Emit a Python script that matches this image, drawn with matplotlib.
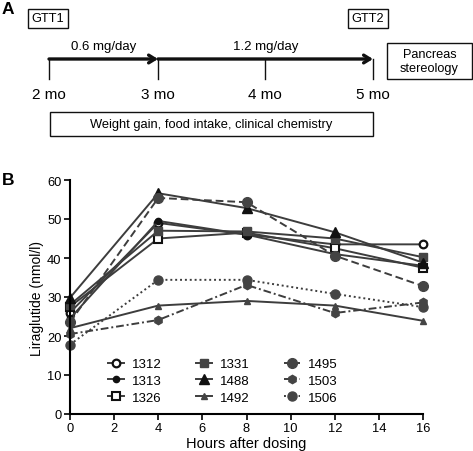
import matplotlib
matplotlib.use("Agg")
import matplotlib.pyplot as plt
from matplotlib.patches import Rectangle

plt.rcParams['font.family'] = ['Liberation Sans', 'DejaVu Sans']

# ---------------- data ----------------
hours = [0, 4, 8, 12, 16]
animals = ['1312', '1313', '1326', '1331', '1488', '1492', '1495', '1503', '1506']
v1312 = [26.0, 49.0, 46.0, 43.5, 43.5]
v1313 = [24.5, 49.5, 46.0, 41.0, 38.0]
v1326 = [27.5, 45.0, 46.5, 42.5, 37.5]
v1331 = [28.0, 47.0, 46.8, 45.0, 40.2]
v1488 = [29.8, 56.6, 52.8, 46.6, 38.8]
v1492 = [22.0, 27.8, 29.0, 27.8, 23.9]
v1495 = [23.5, 55.4, 54.3, 40.6, 32.8]
v1503 = [20.5, 24.1, 33.1, 25.9, 28.6]
v1506 = [17.8, 34.4, 34.4, 30.8, 27.4]
series = [v1312, v1313, v1326, v1331, v1488, v1492, v1495, v1503, v1506]

months = ['2 mo', '3 mo', '4 mo', '5 mo']
doses = ['0.6 mg/day', '1.2 mg/day']

xticks = [0, 2, 4, 6, 8, 10, 12, 14, 16]
yticks = [0, 10, 20, 30, 40, 50, 60]

# ---------------- figure ----------------
W, H = 473, 452
fig = plt.figure(figsize=(W / 100, H / 100), dpi=100)

# Panel A, drawn in pixel coordinates
axA = fig.add_axes([0, 0, 1, 1])
axA.set_xlim(0, W)
axA.set_ylim(H, 0)
axA.axis('off')

lc = '#111111'
axA.text(8, 10, 'A', fontsize=12.5, fontweight='bold', ha='center', va='center')
axA.text(8, 181, 'B', fontsize=12.5, fontweight='bold', ha='center', va='center')


def boxed(x0, y0, x1, y1, txt, fs):
    axA.add_patch(Rectangle((x0, y0), x1 - x0, y1 - y0, fill=False, ec=lc, lw=1.0))
    axA.text((x0 + x1) / 2, (y0 + y1) / 2, txt, fontsize=fs, ha='center', va='center',
             linespacing=1.15)


boxed(28, 10, 68, 29, 'GTT1', 9.2)
boxed(348, 10, 388, 29, 'GTT2', 9.2)
boxed(387, 44, 472, 80, 'Pancreas\nstereology', 9.2)
boxed(50, 113, 373, 137, 'Weight gain, food intake, clinical chemistry', 9.3)

mx = [49, 158, 265, 373]
ax_y = 60
axA.annotate('', xy=(mx[1], ax_y), xytext=(mx[0], ax_y),
             arrowprops=dict(arrowstyle='->,head_length=0.45,head_width=0.28', lw=2.4, color=lc,
                             shrinkA=0, shrinkB=0))
axA.annotate('', xy=(mx[3], ax_y), xytext=(mx[1], ax_y),
             arrowprops=dict(arrowstyle='->,head_length=0.45,head_width=0.28', lw=2.4, color=lc,
                             shrinkA=0, shrinkB=0))
for x, lab in zip(mx, months):
    axA.plot([x, x], [ax_y, 80], color=lc, lw=1.0)
    axA.text(x, 95, lab, fontsize=11, ha='center', va='center')
axA.text((mx[0] + mx[1]) / 2, 47, doses[0], fontsize=9.5, ha='center', va='center')
axA.text((mx[1] + mx[3]) / 2, 47, doses[1], fontsize=9.5, ha='center', va='center')

# Panel B
L, R, T, Bm = 70, 423, 181, 415
axB = fig.add_axes([L / W, 1 - Bm / H, (R - L) / W, (Bm - T) / H])

gray = '#3d3d3d'
styles = [
    dict(marker='o', mfc='white', mec='#111111', ms=5.5, mew=1.6, ls='-'),
    dict(marker='o', mfc='#111111', mec='#111111', ms=4.5, ls='-'),
    dict(marker='s', mfc='white', mec='#111111', ms=5.5, mew=1.5, ls='-'),
    dict(marker='s', mfc='#444444', mec='#444444', ms=5.5, ls='-'),
    dict(marker='^', mfc='#111111', mec='#111111', ms=6.5, ls='-'),
    dict(marker='^', mfc='#444444', mec='#444444', ms=4.5, ls='-'),
    dict(marker='o', mfc='#444444', mec='#444444', ms=7, ls=(0, (4, 2))),
    dict(marker='h', mfc='#444444', mec='#444444', ms=6, ls=(0, (4, 1.5, 1, 1.5))),
    dict(marker='o', mfc='#444444', mec='#444444', ms=6.5, ls=(0, (1, 1.5))),
]
for name, vals, st in zip(animals, series, styles):
    axB.plot(hours, vals, color=gray, lw=1.4, label=name, clip_on=False, **st)

axB.set_xlim(0, 16)
axB.set_ylim(0, 60)
axB.set_xticks(xticks)
axB.set_yticks(yticks)
axB.tick_params(axis='both', labelsize=9.3, width=1.2, length=4, direction='out', pad=2)
for s in ['top', 'right']:
    axB.spines[s].set_visible(False)
for s in ['left', 'bottom']:
    axB.spines[s].set_linewidth(1.5)
axB.set_xlabel('Hours after dosing', fontsize=10.5, labelpad=1)
axB.set_ylabel('Liraglutide (nmol/l)', fontsize=10, labelpad=2)

leg = axB.legend(loc='upper left', bbox_to_anchor=(0.093, 0.261), ncol=3, frameon=False,
                 fontsize=9.5, handlelength=1.2, handletextpad=0.6, columnspacing=2.6,
                 labelspacing=0.33, borderaxespad=0)

fig.savefig('out.png', dpi=100)
